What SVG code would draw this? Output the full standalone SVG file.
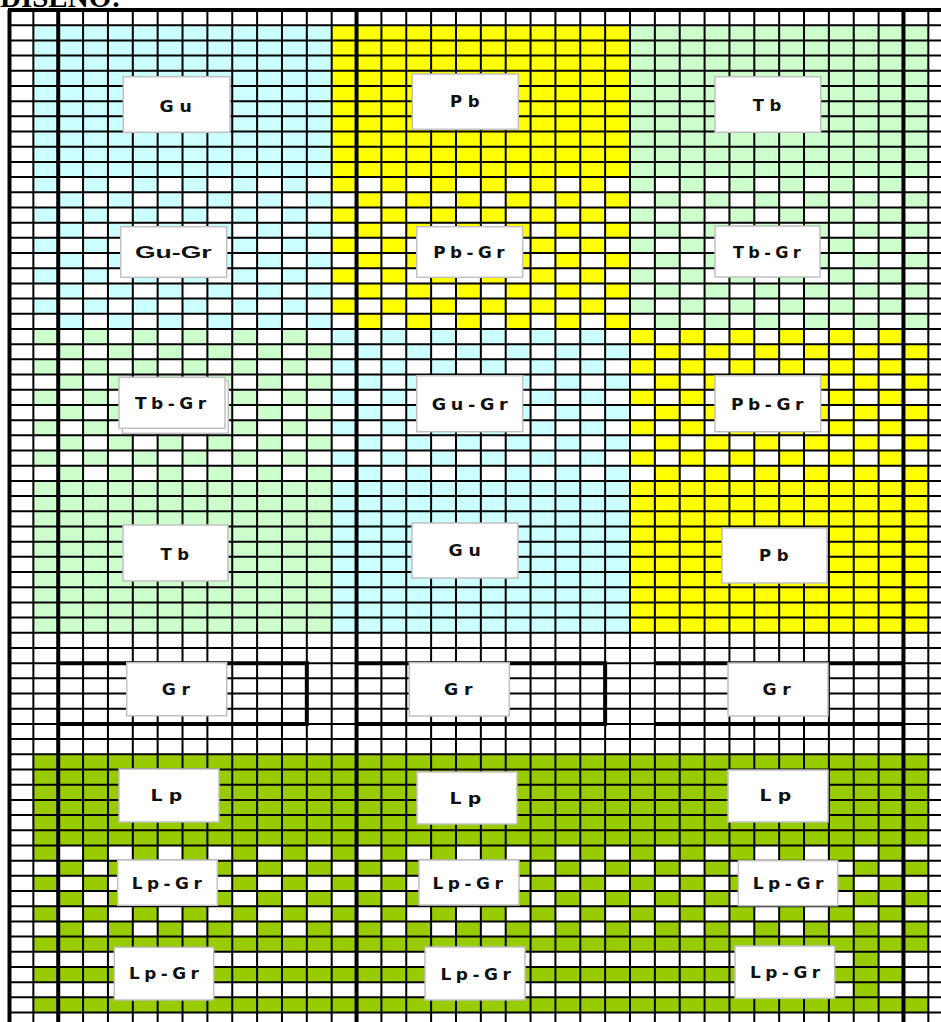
<svg xmlns="http://www.w3.org/2000/svg" width="941" height="1022" viewBox="0 0 941 1022">
<style>
.lb rect{fill:#fff;stroke:#c0c0c0;stroke-width:1.5}
.lb text{font-family:"DejaVu Sans","Liberation Sans",sans-serif;font-weight:bold;font-size:15px;fill:#111;text-anchor:middle}
.lb text.s5{letter-spacing:5px}
.lb text.s4{letter-spacing:4px}
.lb text.w{font-family:"Liberation Sans",Arial,sans-serif;font-size:17px}
.g{fill:none;stroke:#000;stroke-width:2}
.t{fill:none;stroke:#000;stroke-width:4}
</style>
<defs>
<pattern id="pC" x="8.5" y="10" width="49.72" height="30.38" patternUnits="userSpaceOnUse"><rect width="24.86" height="15.19" fill="#CCFFFF"/><rect x="24.86" y="15.19" width="24.86" height="15.19" fill="#CCFFFF"/></pattern>
<pattern id="pY" x="8.5" y="10" width="49.72" height="30.38" patternUnits="userSpaceOnUse"><rect width="24.86" height="15.19" fill="#FFFF00"/><rect x="24.86" y="15.19" width="24.86" height="15.19" fill="#FFFF00"/></pattern>
<pattern id="pG" x="8.5" y="10" width="49.72" height="30.38" patternUnits="userSpaceOnUse"><rect width="24.86" height="15.19" fill="#CCFFCC"/><rect x="24.86" y="15.19" width="24.86" height="15.19" fill="#CCFFCC"/></pattern>
<pattern id="pO" x="8.5" y="10" width="49.72" height="30.38" patternUnits="userSpaceOnUse"><rect width="24.86" height="15.19" fill="#99CC00"/><rect x="24.86" y="15.19" width="24.86" height="15.19" fill="#99CC00"/></pattern>
</defs>
<rect width="941" height="1022" fill="#fff"/>
<text x="0" y="7" font-family="Liberation Serif,serif" font-weight="bold" font-size="29">DISEÑO:</text>
<g id="fills">
<rect x="33.36" y="25.19" width="298.32" height="151.9" fill="#CCFFFF"/>
<rect x="331.68" y="25.19" width="298.32" height="151.9" fill="#FFFF00"/>
<rect x="630" y="25.19" width="298.32" height="151.9" fill="#CCFFCC"/>
<rect x="33.36" y="177.09" width="298.32" height="151.9" fill="url(#pC)"/>
<rect x="331.68" y="177.09" width="298.32" height="151.9" fill="url(#pY)"/>
<rect x="630" y="177.09" width="298.32" height="151.9" fill="url(#pG)"/>
<rect x="33.36" y="328.99" width="298.32" height="151.9" fill="url(#pG)"/>
<rect x="331.68" y="328.99" width="298.32" height="151.9" fill="url(#pC)"/>
<rect x="630" y="328.99" width="298.32" height="151.9" fill="url(#pY)"/>
<rect x="33.36" y="480.89" width="298.32" height="151.9" fill="#CCFFCC"/>
<rect x="331.68" y="480.89" width="298.32" height="151.9" fill="#CCFFFF"/>
<rect x="630" y="480.89" width="298.32" height="151.9" fill="#FFFF00"/>
<rect x="33.36" y="754.31" width="894.96" height="91.14" fill="#99CC00"/>
<rect x="33.36" y="845.45" width="894.96" height="91.14" fill="url(#pO)"/>
<rect x="33.36" y="936.59" width="894.96" height="15.19" fill="#99CC00"/>
<rect x="33.36" y="966.97" width="870.1" height="15.19" fill="#99CC00"/>
<rect x="33.36" y="997.35" width="894.96" height="15.19" fill="#99CC00"/>
<rect x="853.74" y="951.78" width="24.86" height="15.19" fill="#99CC00"/>
<rect x="853.74" y="982.16" width="24.86" height="15.19" fill="#99CC00"/>
</g>
<g id="grid">
<path class="g" d="M9.5 10V1022M33.36 10V1022M58.22 10V1022M83.08 10V1022M107.94 10V1022M132.8 10V1022M157.66 10V1022M182.52 10V1022M207.38 10V1022M232.24 10V1022M257.1 10V1022M281.96 10V1022M306.82 10V1022M331.68 10V1022M356.54 10V1022M381.4 10V1022M406.26 10V1022M431.12 10V1022M455.98 10V1022M480.84 10V1022M505.7 10V1022M530.56 10V1022M555.42 10V1022M580.28 10V1022M605.14 10V1022M630 10V1022M654.86 10V1022M679.72 10V1022M704.58 10V1022M729.44 10V1022M754.3 10V1022M779.16 10V1022M804.02 10V1022M828.88 10V1022M853.74 10V1022M878.6 10V1022M903.46 10V1022M928.32 10V1022
M8.5 10H941M8.5 25.19H941M8.5 40.38H941M8.5 55.57H941M8.5 70.76H941M8.5 85.95H941M8.5 101.14H941M8.5 116.33H941M8.5 131.52H941M8.5 146.71H941M8.5 161.9H941M8.5 177.09H941M8.5 192.28H941M8.5 207.47H941M8.5 222.66H941M8.5 237.85H941M8.5 253.04H941M8.5 268.23H941M8.5 283.42H941M8.5 298.61H941M8.5 313.8H941M8.5 328.99H941M8.5 344.18H941M8.5 359.37H941M8.5 374.56H941M8.5 389.75H941M8.5 404.94H941M8.5 420.13H941M8.5 435.32H941M8.5 450.51H941M8.5 465.7H941M8.5 480.89H941M8.5 496.08H941M8.5 511.27H941M8.5 526.46H941M8.5 541.65H941M8.5 556.84H941M8.5 572.03H941M8.5 587.22H941M8.5 602.41H941M8.5 617.6H941M8.5 632.79H941M8.5 647.98H941M8.5 663.17H941M8.5 678.36H941M8.5 693.55H941M8.5 708.74H941M8.5 723.93H941M8.5 739.12H941M8.5 754.31H941M8.5 769.5H941M8.5 784.69H941M8.5 799.88H941M8.5 815.07H941M8.5 830.26H941M8.5 845.45H941M8.5 860.64H941M8.5 875.83H941M8.5 891.02H941M8.5 906.21H941M8.5 921.4H941M8.5 936.59H941M8.5 951.78H941M8.5 966.97H941M8.5 982.16H941M8.5 997.35H941M8.5 1012.54H941"/>
<path class="t" d="M9.5 10V1022M58.22 10V1022M356.54 10V1022M903.46 10V1022M8 10H941M58.22 663.17H306.82V723.93H58.22M356.54 663.17H605.14V723.93H356.54M654.86 663.17H903.46V723.93H654.86"/>
</g>
<g id="n1" class="lb"><rect x="123.3" y="76.7" width="106.7" height="55.6"/><text class="s5" x="178.5" y="111.5" textLength="38" lengthAdjust="spacingAndGlyphs">Gu</text></g>
<g id="n2" class="lb"><rect x="412.3" y="74" width="106" height="55.3"/><text class="s5" x="467.5" y="107.3" textLength="35" lengthAdjust="spacingAndGlyphs">Pb</text></g>
<g id="n3" class="lb"><rect x="715" y="76.7" width="105.7" height="55.6"/><text class="s5" x="769.7" y="111" textLength="34" lengthAdjust="spacingAndGlyphs">Tb</text></g>
<g id="n4" class="lb"><rect x="120.7" y="226.7" width="106" height="50.6"/><text class="w" x="173.3" y="258.3" textLength="76.7" lengthAdjust="spacingAndGlyphs">Gu-Gr</text></g>
<g id="n5" class="lb"><rect x="416.7" y="226.7" width="106" height="50.6"/><text class="s4" x="471.2" y="257.7" textLength="75.7" lengthAdjust="spacingAndGlyphs">Pb-Gr</text></g>
<g id="n6" class="lb"><rect x="715" y="226" width="105" height="51"/><text class="s4" x="769" y="258" textLength="72" lengthAdjust="spacingAndGlyphs">Tb-Gr</text></g>
<g id="n7" class="lb"><rect x="122.3" y="380.7" width="106" height="52.6"/><rect x="119" y="377.3" width="106" height="51"/><text class="s4" x="172.8" y="409.3" textLength="75.7" lengthAdjust="spacingAndGlyphs">Tb-Gr</text></g>
<g id="n8" class="lb"><rect x="416.7" y="375.7" width="106" height="56"/><text class="s4" x="472" y="410" textLength="80.7" lengthAdjust="spacingAndGlyphs">Gu-Gr</text></g>
<g id="n9" class="lb"><rect x="715" y="375.7" width="105.7" height="56"/><text class="s4" x="769.5" y="410" textLength="77" lengthAdjust="spacingAndGlyphs">Pb-Gr</text></g>
<g id="n10" class="lb"><rect x="123" y="525" width="105" height="56"/><text class="s5" x="177.5" y="560" textLength="34" lengthAdjust="spacingAndGlyphs">Tb</text></g>
<g id="n11" class="lb"><rect x="412" y="523" width="106" height="55"/><text class="s5" x="467.5" y="556" textLength="38" lengthAdjust="spacingAndGlyphs">Gu</text></g>
<g id="n12" class="lb"><rect x="722" y="528" width="105" height="55"/><text class="s5" x="776.5" y="561" textLength="35" lengthAdjust="spacingAndGlyphs">Pb</text></g>
<g id="n13" class="lb"><rect x="126.7" y="662.7" width="100" height="53"/><text class="s5" x="178.7" y="695" textLength="34" lengthAdjust="spacingAndGlyphs">Gr</text></g>
<g id="n14" class="lb"><rect x="409.3" y="662.7" width="100" height="53.3"/><text class="s5" x="461.2" y="695" textLength="34.3" lengthAdjust="spacingAndGlyphs">Gr</text></g>
<g id="n15" class="lb"><rect x="728" y="663" width="100" height="53"/><text class="s5" x="779.5" y="695" textLength="34" lengthAdjust="spacingAndGlyphs">Gr</text></g>
<g id="n16" class="lb"><rect x="119" y="769" width="100" height="53"/><text class="s5" x="169.5" y="801" textLength="38" lengthAdjust="spacingAndGlyphs">Lp</text></g>
<g id="n17" class="lb"><rect x="417" y="772" width="100" height="52"/><text class="s5" x="468.5" y="804" textLength="38" lengthAdjust="spacingAndGlyphs">Lp</text></g>
<g id="n18" class="lb"><rect x="728" y="770" width="100" height="52"/><text class="s5" x="778.5" y="801" textLength="38" lengthAdjust="spacingAndGlyphs">Lp</text></g>
<g id="n19" class="lb"><rect x="117.7" y="860" width="99.6" height="45.3"/><text class="s4" x="169" y="889" textLength="74.7" lengthAdjust="spacingAndGlyphs">Lp-Gr</text></g>
<g id="n20" class="lb"><rect x="419" y="860" width="100" height="45"/><text class="s4" x="470" y="889" textLength="75" lengthAdjust="spacingAndGlyphs">Lp-Gr</text></g>
<g id="n21" class="lb"><rect x="738.3" y="860.7" width="99.4" height="45"/><text class="s4" x="790.3" y="889" textLength="75.3" lengthAdjust="spacingAndGlyphs">Lp-Gr</text></g>
<g id="n22" class="lb"><rect x="114.3" y="947.3" width="99.4" height="52.7"/><text class="s4" x="166.2" y="979.3" textLength="74.3" lengthAdjust="spacingAndGlyphs">Lp-Gr</text></g>
<g id="n23" class="lb"><rect x="425" y="947" width="100" height="53"/><text class="s4" x="478" y="980" textLength="75" lengthAdjust="spacingAndGlyphs">Lp-Gr</text></g>
<g id="n24" class="lb"><rect x="735" y="946" width="99.7" height="52.3"/><text class="s4" x="787.3" y="978.3" textLength="74.7" lengthAdjust="spacingAndGlyphs">Lp-Gr</text></g>
</svg>
